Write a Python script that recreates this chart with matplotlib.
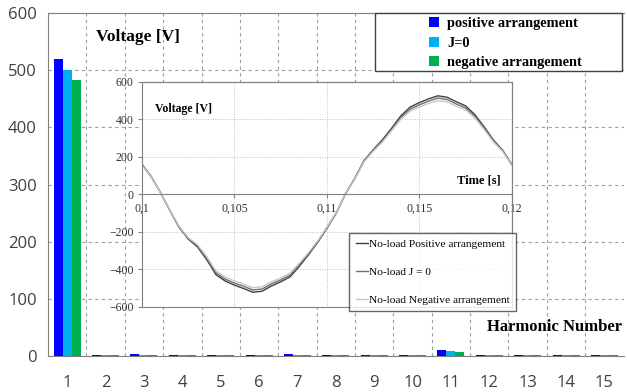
import numpy as np
import matplotlib.pyplot as plt
from matplotlib.ticker import FixedLocator
from matplotlib.patches import Rectangle

# harmonic spectrum
harmonics = list(range(1, 16))
v_positive = [520, 2, 3, 2, 2, 2, 3, 2, 2, 2, 10, 2, 2, 2, 2]
v_j0 = [500, 1, 1, 1, 1, 1, 1, 1, 1, 1, 8, 1, 1, 1, 1]
v_negative = [483, 1, 1, 1, 1, 1, 1, 1, 1, 1, 7, 1, 1, 1, 1]

# no-load voltage waveform
time_s = [0.1000, 0.1005, 0.1010, 0.1015, 0.1020, 0.1025, 0.1030, 0.1035, 0.1040, 0.1045,
          0.1050, 0.1055, 0.1060, 0.1065, 0.1070, 0.1075, 0.1080, 0.1085, 0.1090, 0.1095,
          0.1100, 0.1105, 0.1110, 0.1115, 0.1120, 0.1125, 0.1130, 0.1135, 0.1140, 0.1145,
          0.1150, 0.1155, 0.1160, 0.1165, 0.1170, 0.1175, 0.1180, 0.1185, 0.1190, 0.1195,
          0.1200]
wave_positive = [160, 95, 10, -85, -175, -238, -280, -348, -428, -462,
                 -484, -502, -522, -516, -488, -466, -440, -384, -322, -255,
                 -180, -100, 3, 85, 180, 238, 292, 354, 420, 466,
                 490, 510, 526, 518, 494, 472, 425, 360, 290, 235,
                 159]
wave_j0 = [158, 94, 10, -84, -172, -234, -274, -340, -418, -452,
           -473, -490, -510, -504, -477, -456, -430, -376, -316, -251,
           -177, -98, 3, 83, 177, 234, 286, 347, 411, 455,
           478, 498, 514, 506, 482, 461, 416, 353, 285, 232,
           157]
wave_negative = [156, 93, 10, -83, -170, -231, -268, -332, -408, -441,
                 -461, -478, -498, -492, -466, -446, -420, -368, -310, -247,
                 -174, -96, 3, 81, 174, 230, 280, 340, 402, 444,
                 466, 486, 501, 494, 470, 450, 407, 346, 280, 229,
                 155]

serif = ['Liberation Serif', 'DejaVu Serif']
sans = ['Open Sans', 'DejaVu Sans']

fig = plt.figure(figsize=(6.27, 3.92), dpi=100)
ax = fig.add_axes([0.0766, 0.0918, 0.918, 0.875])

x = np.array(harmonics)
w = 0.235
ax.bar(x - w, v_positive, w, color='#0000FF', label='positive arrangement', zorder=3)
ax.bar(x, v_j0, w, color='#00B0F0', label='J=0', zorder=3)
ax.bar(x + w, v_negative, w, color='#00B050', label='negative arrangement', zorder=3)

ax.set_xlim(0.5, 15.5)
ax.set_ylim(0, 600)
ax.set_xticks(harmonics)
ax.set_yticks(range(0, 601, 100))
ax.xaxis.set_minor_locator(FixedLocator(np.arange(1.5, 15, 1)))
ax.tick_params(which='both', length=0)
ax.tick_params(axis='x', pad=14, labelsize=12, labelcolor='#404040')
ax.tick_params(axis='y', pad=8, labelsize=12, labelcolor='#404040')
for lab in ax.get_xticklabels() + ax.get_yticklabels():
    lab.set_family(sans)
ax.grid(axis='y', which='major', linestyle=(0, (3, 3)), color='#a0a0a0', linewidth=0.8)
ax.grid(axis='x', which='minor', linestyle=(0, (3, 3)), color='#a0a0a0', linewidth=0.8)
for sp in ax.spines.values():
    sp.set_color('#808080')
ax.spines['right'].set_visible(False)
ax.spines['top'].set_visible(False)
ax.plot([0.5, 15.5], [600, 600], color='#808080', lw=0.8, clip_on=False, zorder=4)

ax.text(0.083, 0.93, 'Voltage [V]', transform=ax.transAxes, family=serif,
        fontweight='bold', fontsize=12.5, va='center')
ax.text(0.998, 0.085, 'Harmonic Number', transform=ax.transAxes, family=serif,
        fontweight='bold', fontsize=12, ha='right', va='center')

# legend box drawn by hand so it can be wider than its entries
fig.patches.append(Rectangle((375 / 627, 1 - 71 / 392), 247 / 627, 58 / 392,
                             transform=fig.transFigure, facecolor='white',
                             edgecolor='#404040', linewidth=1.0, zorder=5))
handles, labels = ax.get_legend_handles_labels()
leg = fig.legend(handles, labels, loc='upper left', bbox_to_anchor=(425 / 627, 1 - 13 / 392),
                 frameon=False, prop={'family': serif, 'weight': 'bold', 'size': 10.4},
                 handlelength=0.7, handleheight=0.7, handletextpad=0.55,
                 labelspacing=0.42, borderpad=0.3, borderaxespad=0)
leg.set_zorder(6)

# inset waveform
ins = fig.add_axes([0.2265, 0.217, 0.59, 0.574])
ins.plot(time_s, wave_positive, color='#404040', lw=1.0, label='No-load Positive arrangement')
ins.plot(time_s, wave_j0, color='#707070', lw=1.0, label='No-load J = 0')
ins.plot(time_s, wave_negative, color='#c8c8c8', lw=1.0, label='No-load Negative arrangement')
ins.set_xlim(0.1, 0.12)
ins.set_ylim(-600, 600)
ins.set_xticks([0.1, 0.105, 0.11, 0.115, 0.12])
ins.set_xticklabels(['0,1', '0,105', '0,11', '0,115', '0,12'])
ins.set_yticks(range(-600, 601, 200))
ins.spines['bottom'].set_position(('data', 0))
ins.tick_params(axis='x', length=3, pad=3, labelsize=8.5, color='#808080', labelcolor='#303030')
ins.tick_params(axis='y', length=3, pad=3, labelsize=8.5, color='#808080', labelcolor='#303030')
for lab in ins.get_xticklabels() + ins.get_yticklabels():
    lab.set_family(serif)
ins.grid(True, linestyle=(0, (1, 1.5)), color='#c0c0c0', linewidth=0.7)
for sp in ins.spines.values():
    sp.set_color('#808080')
ins.plot([0, 1], [0, 0], transform=ins.transAxes, color='#808080', lw=0.8, clip_on=False)
ins.plot([0, 1], [1, 1], transform=ins.transAxes, color='#808080', lw=0.8, clip_on=False)
ins.plot([1, 1], [0, 1], transform=ins.transAxes, color='#808080', lw=0.8, clip_on=False)

ins.text(0.035, 0.88, 'Voltage [V]', transform=ins.transAxes, family=serif,
         fontweight='bold', fontsize=8.5, va='center')
ins.text(0.97, 0.56, 'Time [s]', transform=ins.transAxes, family=serif,
         fontweight='bold', fontsize=9, ha='right', va='center')

ileg = ins.legend(loc='lower right', bbox_to_anchor=(1.012, -0.02), frameon=True,
                  fancybox=False, prop={'family': serif, 'size': 8.2},
                  handlelength=1.0, handletextpad=0.1, labelspacing=1.55,
                  borderpad=0.6, borderaxespad=0)
ileg.get_frame().set_edgecolor('#404040')
ileg.get_frame().set_linewidth(1.0)

fig.savefig('out.png', dpi=100)
